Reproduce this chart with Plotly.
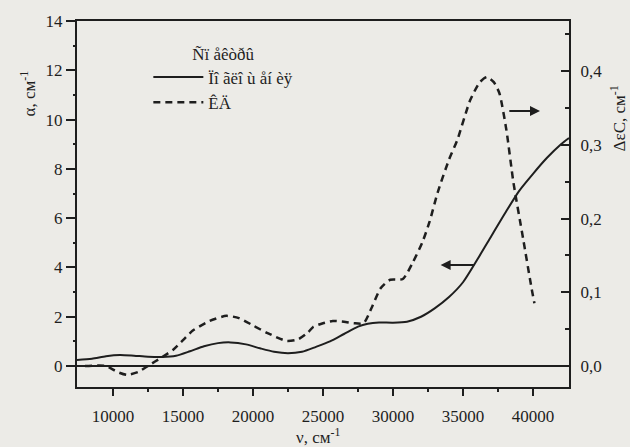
import plotly.graph_objects as go

# ---- data ----
nu_abs = [7430, 8500, 9500, 10500, 11500, 12500, 13500, 14500, 15500, 16500, 17500, 18400,
          19500, 20500, 21500, 22500, 23500, 24500, 25500, 26500, 27500, 28200, 29000, 30000,
          31000, 32000, 33000, 34000, 35000, 36000, 37000, 38000, 39000, 40000, 41000, 42000, 42570]
alpha = [0.25, 0.3, 0.4, 0.45, 0.42, 0.38, 0.37, 0.42, 0.6, 0.8, 0.93, 0.96,
         0.88, 0.72, 0.58, 0.52, 0.58, 0.78, 1.0, 1.3, 1.6, 1.72, 1.77, 1.76,
         1.8, 2.0, 2.35, 2.8, 3.4, 4.3, 5.25, 6.2, 7.1, 7.8, 8.45, 9.0, 9.25]

nu_cd = [8000, 9500, 10300, 11000, 11800, 12500, 13500, 14300, 15000, 15700, 16900, 18100,
         19000, 20000, 21000, 22400, 23200, 23900, 24300, 25000, 25700, 26500, 27200, 27900,
         28500, 29100, 29800, 30700, 31400, 32100, 32600, 33200, 34000, 34600, 35500, 36200,
         36700, 37200, 37600, 38100, 38600, 39300, 39900, 40100]
delta_eps = [0.0, 0.0, -0.008, -0.012, -0.008, 0.0, 0.012, 0.022, 0.035, 0.048, 0.061, 0.068,
             0.065, 0.055, 0.045, 0.034, 0.036, 0.045, 0.053, 0.058, 0.061, 0.06, 0.058, 0.058,
             0.08, 0.105, 0.117, 0.118, 0.14, 0.168, 0.195, 0.236, 0.28, 0.307, 0.36, 0.385,
             0.392, 0.385, 0.37, 0.32, 0.249, 0.172, 0.105, 0.085]

x_ticks = [10000, 15000, 20000, 25000, 30000, 35000, 40000]
x_ticktext = ["10000", "15000", "20000", "25000", "30000", "35000", "40000"]
y_ticks = [0, 2, 4, 6, 8, 10, 12, 14]
y2_ticks = [0.0, 0.1, 0.2, 0.3, 0.4]
y2_ticktext = ["0,0", "0,1", "0,2", "0,3", "0,4"]

legend_title = "Ñï åêòðû"
name_abs = "Ïî ãëî ù åí èÿ"
name_cd = "ÊÄ"

INK = "#1e1e1e"
BG = "#ecebe7"
FONT = "Liberation Serif"
TICKFONT = dict(family=FONT, size=17, color=INK)

fig = go.Figure()
fig.add_trace(go.Scatter(x=nu_abs, y=alpha, mode="lines", name=name_abs,
                         line=dict(color=INK, width=2, shape="spline", smoothing=0.7),
                         yaxis="y"))
fig.add_trace(go.Scatter(x=nu_cd, y=delta_eps, mode="lines", name=name_cd,
                         line=dict(color=INK, width=2.5, dash="7px,5px", shape="spline", smoothing=0.6),
                         yaxis="y2"))

fig.update_layout(
    width=630, height=447,
    margin=dict(l=77, r=61, t=17, b=60),
    paper_bgcolor=BG, plot_bgcolor=BG,
    font=dict(family=FONT, size=16, color=INK),
    showlegend=True,
    legend=dict(x=0.145, y=0.955, xanchor="left", yanchor="top", bgcolor="rgba(0,0,0,0)",
                title=dict(text=legend_title, side="top center", font=dict(size=17, color=INK)),
                font=dict(size=17, color=INK), tracegroupgap=0, itemwidth=50),
    xaxis=dict(range=[7430, 42570], showgrid=False, zeroline=False,
               showline=True, linecolor=INK, linewidth=2, mirror=True,
               tickvals=x_ticks, ticktext=x_ticktext, ticks="outside", ticklen=7,
               tickwidth=1.5, tickcolor=INK, tickfont=TICKFONT, ticklabelstandoff=6,
               minor=dict(tickvals=[12500, 17500, 22500, 27500, 32500, 37500],
                          ticks="outside", ticklen=3, tickwidth=2, tickcolor=INK)),
    yaxis=dict(range=[-0.85, 14], showgrid=False, zeroline=True, zerolinecolor=INK,
               zerolinewidth=2, showline=True, linecolor=INK, linewidth=2,
               tickvals=y_ticks, ticks="outside", ticklen=9, tickwidth=1.5, tickcolor=INK,
               tickfont=TICKFONT,
               minor=dict(tickvals=[1, 3, 5, 7, 9, 11, 13], ticks="outside", ticklen=2,
                          tickwidth=2, tickcolor=INK)),
    yaxis2=dict(range=[-0.0285, 0.468], overlaying="y", side="right", showgrid=False,
                zeroline=False, showline=True, linecolor=INK, linewidth=2,
                tickvals=y2_ticks, ticktext=y2_ticktext, ticks="inside", ticklen=8,
                tickwidth=1.5, tickcolor=INK, tickfont=TICKFONT, ticklabelstandoff=6,
                minor=dict(tickvals=[0.05, 0.15, 0.25, 0.35, 0.45], ticks="inside",
                           ticklen=4, tickwidth=1.5, tickcolor=INK)),
)

# axis titles
fig.add_annotation(text="α, см<sup>-1</sup>", xref="paper", yref="paper",
                   x=-0.1, y=0.87, xanchor="center", showarrow=False, textangle=-90,
                   font=dict(size=17, family=FONT, color=INK))
fig.add_annotation(text="ΔεC, см<sup>-1</sup>", xref="paper", yref="paper",
                   x=1.1, y=0.83, xanchor="center", showarrow=False, textangle=-90,
                   font=dict(size=17, family=FONT, color=INK))
fig.add_annotation(text="ν, см<sup>-1</sup>", xref="paper", yref="paper",
                   x=0.49, y=-0.135, yanchor="middle", showarrow=False,
                   font=dict(size=17, family=FONT, color=INK))

# arrows pointing to the relevant axes
fig.add_annotation(x=40500, y=0.346, ax=38200, ay=0.346, xref="x", yref="y2",
                   axref="x", ayref="y2", text="", showarrow=True, arrowhead=2,
                   arrowsize=1, arrowwidth=2, arrowcolor=INK)
fig.add_annotation(x=33400, y=4.1, ax=35900, ay=4.1, xref="x", yref="y",
                   axref="x", ayref="y", text="", showarrow=True, arrowhead=2,
                   arrowsize=1, arrowwidth=2, arrowcolor=INK)

fig.write_html("out.html")
